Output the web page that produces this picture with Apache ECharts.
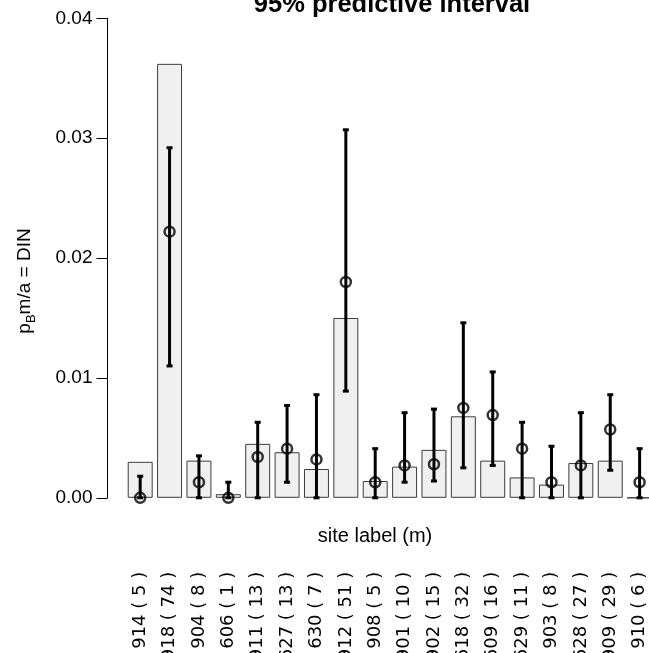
<!DOCTYPE html>
<html>
<head>
<meta charset="utf-8">
<title>95% predictive interval</title>
<script src="https://cdn.jsdelivr.net/npm/echarts@6/dist/echarts.min.js"></script>
<style>
  html, body { margin: 0; padding: 0; background: #ffffff; }
  #chart { width: 649px; height: 653px; }
</style>
</head>
<body>
<div id="chart"></div>
<script>
// Sites and number of samples per site
const sites = ['914', '918', '904', '606', '911', '627', '630', '912', '908',
               '901', '902', '618', '609', '629', '903', '628', '909', '910'];
const counts = [5, 74, 8, 1, 13, 13, 7, 51, 5, 10, 15, 32, 16, 11, 8, 27, 29, 6];

// Observed DIN per site (bars)
const observed = [0.0030, 0.0362, 0.0031, 0.0003, 0.0045, 0.0038, 0.0024, 0.0150, 0.0014,
                  0.0026, 0.0040, 0.0068, 0.0031, 0.0017, 0.0011, 0.0029, 0.0031, 0.0000];

// Predicted value and 95% predictive interval
const predicted = [0.0000, 0.0222, 0.0013, 0.0000, 0.0034, 0.0041, 0.0032, 0.0180, 0.0013,
                   0.0027, 0.0028, 0.0075, 0.0069, 0.0041, 0.0013, 0.0027, 0.0057, 0.0013];
const lower = [0.0000, 0.0110, 0.0000, 0.0000, 0.0000, 0.0013, 0.0000, 0.0089, 0.0000,
               0.0013, 0.0014, 0.0025, 0.0027, 0.0000, 0.0000, 0.0000, 0.0023, 0.0000];
const upper = [0.0018, 0.0292, 0.0035, 0.0013, 0.0063, 0.0077, 0.0086, 0.0307, 0.0041,
               0.0071, 0.0074, 0.0146, 0.0105, 0.0063, 0.0043, 0.0071, 0.0086, 0.0041];

// Y axis ticks
const yTicks = [0.00, 0.01, 0.02, 0.03, 0.04];

const categories = sites.map((s, i) => s + ' ( ' + counts[i] + ' )');
const intervals = sites.map((s, i) => [i, lower[i], upper[i]]);

const FONT = '"Liberation Sans", Arial, Helvetica, sans-serif';

const chart = echarts.init(document.getElementById('chart'), null, { renderer: 'canvas' });

chart.setOption({
  animation: false,
  backgroundColor: '#ffffff',
  grid: {
    left: 125.5, top: 18.3, width: 528.8, height: 479.5,
    containLabel: false,
    outerBoundsMode: 'none'
  },
  xAxis: {
    type: 'category',
    data: categories,
    axisLine: { show: false },
    axisTick: { show: false },
    axisLabel: {
      interval: 0,
      rotate: 90,
      margin: 74,
      color: '#000',
      fontSize: 18,
      fontFamily: '"DejaVu Sans", sans-serif'
    },
    splitLine: { show: false }
  },
  yAxis: {
    type: 'value',
    min: yTicks[0],
    max: yTicks[yTicks.length - 1],
    interval: 0.01,
    offset: 18,
    axisLine: { show: true, lineStyle: { color: '#000', width: 1 } },
    axisTick: { show: true, inside: false, length: 11, lineStyle: { color: '#000', width: 1 } },
    axisLabel: {
      margin: 15,
      color: '#000',
      fontSize: 19,
      fontFamily: FONT,
      formatter: v => v.toFixed(2)
    },
    splitLine: { show: false }
  },
  graphic: [
    {
      type: 'text',
      x: 392, y: 5,
      style: {
        text: '95% predictive interval',
        font: 'bold 25.5px ' + FONT,
        fill: '#000',
        textAlign: 'center',
        textVerticalAlign: 'middle'
      }
    },
    {
      type: 'text',
      x: 375, y: 536.5,
      style: {
        text: 'site label (m)',
        font: '20px ' + FONT,
        fill: '#000',
        textAlign: 'center',
        textVerticalAlign: 'middle'
      }
    },
    {
      type: 'text',
      x: 25, y: 281,
      rotation: Math.PI / 2,
      style: {
        text: '{n|p}{s|B}{n|m/a = DIN}',
        fill: '#000',
        textAlign: 'center',
        textVerticalAlign: 'middle',
        rich: {
          n: { fontSize: 19, fontFamily: FONT, lineHeight: 26, verticalAlign: 'middle', fill: '#000' },
          s: { fontSize: 13, fontFamily: FONT, lineHeight: 26, verticalAlign: 'bottom', fill: '#000' }
        }
      }
    }
  ],
  series: [
    {
      type: 'bar',
      data: observed,
      barWidth: '85%',
      itemStyle: { color: '#f0f0f0', borderColor: '#3c3c3c', borderWidth: 1 },
      z: 1
    },
    {
      type: 'custom',
      data: intervals,
      encode: { x: 0, y: [1, 2] },
      z: 3,
      renderItem: (params, api) => {
        const lo = api.coord([api.value(0), api.value(1)]);
        const hi = api.coord([api.value(0), api.value(2)]);
        const x = lo[0];
        const st = { stroke: '#000', lineWidth: 3 };
        return {
          type: 'group',
          children: [
            { type: 'line', shape: { x1: x, y1: lo[1], x2: x, y2: hi[1] }, style: st },
            { type: 'line', shape: { x1: x - 3, y1: hi[1], x2: x + 3, y2: hi[1] }, style: st },
            { type: 'line', shape: { x1: x - 3, y1: lo[1], x2: x + 3, y2: lo[1] }, style: st }
          ]
        };
      }
    },
    {
      type: 'scatter',
      data: predicted,
      symbol: 'circle',
      symbolSize: 10,
      itemStyle: { color: 'rgba(0,0,0,0)', borderColor: '#000', borderWidth: 2.5 },
      z: 4
    }
  ]
});
</script>
</body>
</html>
